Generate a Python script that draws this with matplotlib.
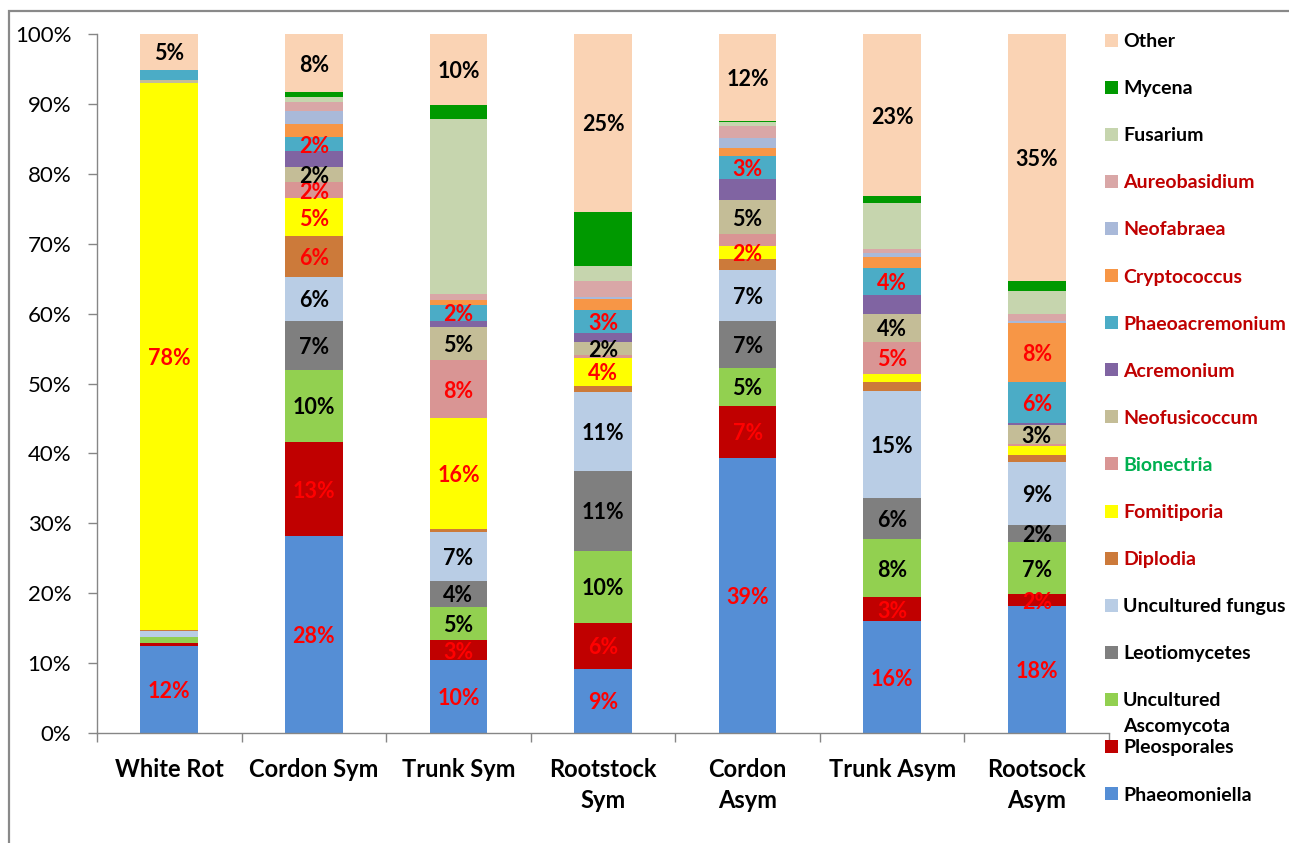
import matplotlib
matplotlib.use("Agg")
import matplotlib.pyplot as plt
from matplotlib.patches import Rectangle
import numpy as np

plt.rcParams["font.family"] = ["Lato", "DejaVu Sans"]

# Sample groups (x axis)
categories = ["White Rot", "Cordon Sym", "Trunk Sym", "Rootstock\nSym",
              "Cordon\nAsym", "Trunk Asym", "Rootsock\nAsym"]

# Relative abundance (%) of each taxon per sample group, stacked bottom -> top
phaeomoniella      = [12.4, 28.2, 10.4,  9.2, 39.4, 16.0, 18.1]
pleosporales       = [ 0.5, 13.4,  2.9,  6.5,  7.4,  3.4,  1.8]
uncult_ascomycota  = [ 0.8, 10.4,  4.7, 10.4,  5.4,  8.4,  7.4]
leotiomycetes      = [ 0.0,  6.9,  3.8, 11.4,  6.8,  5.8,  2.4]
uncult_fungus      = [ 0.9,  6.4,  6.9, 11.3,  7.2, 15.3,  9.0]
diplodia           = [ 0.15, 5.8,  0.5,  0.8,  1.6,  1.3,  1.1]
fomitiporia        = [78.2,  5.4, 15.8,  4.1,  1.9,  1.2,  1.2]
bionectria         = [ 0.1,  2.3,  8.4,  0.4,  1.7,  4.6,  0.3]
neofusicoccum      = [ 0.35, 2.2,  4.7,  1.8,  4.8,  4.0,  2.8]
acremonium         = [ 0.0,  2.2,  0.8,  1.3,  3.0,  2.6,  0.2]
phaeoacremonium    = [ 1.5,  2.0,  2.4,  3.3,  3.4,  3.9,  5.9]
cryptococcus       = [ 0.0,  1.9,  0.6,  1.6,  1.1,  1.6,  8.4]
neofabraea         = [ 0.0,  1.9,  0.1,  0.3,  1.4,  0.5,  0.4]
aureobasidium      = [ 0.0,  1.3,  0.8,  2.3,  1.7,  0.7,  0.9]
fusarium           = [ 0.0,  0.7, 25.1,  2.1,  0.6,  6.5,  3.3]
mycena             = [ 0.0,  0.7,  2.0,  7.8,  0.2,  1.0,  1.4]
other              = [ 5.1,  8.3, 10.1, 25.4, 12.4, 23.2, 35.4]

series_names = ["Phaeomoniella", "Pleosporales", "Uncultured\nAscomycota",
                "Leotiomycetes", "Uncultured fungus", "Diplodia", "Fomitiporia",
                "Bionectria", "Neofusicoccum", "Acremonium", "Phaeoacremonium",
                "Cryptococcus", "Neofabraea", "Aureobasidium", "Fusarium",
                "Mycena", "Other"]
series_values = [phaeomoniella, pleosporales, uncult_ascomycota, leotiomycetes,
                 uncult_fungus, diplodia, fomitiporia, bionectria, neofusicoccum,
                 acremonium, phaeoacremonium, cryptococcus, neofabraea,
                 aureobasidium, fusarium, mycena, other]

# Which sample groups carry a percentage label for each taxon
labelled_groups = {
    "Phaeomoniella": [0, 1, 2, 3, 4, 5, 6],
    "Pleosporales": [1, 2, 3, 4, 5, 6],
    "Uncultured\nAscomycota": [1, 2, 3, 4, 5, 6],
    "Leotiomycetes": [1, 2, 3, 4, 5, 6],
    "Uncultured fungus": [1, 2, 3, 4, 5, 6],
    "Diplodia": [1],
    "Fomitiporia": [0, 1, 2, 3, 4],
    "Bionectria": [1, 2, 5],
    "Neofusicoccum": [1, 2, 3, 4, 5, 6],
    "Phaeoacremonium": [1, 2, 3, 4, 5, 6],
    "Cryptococcus": [6],
    "Other": [0, 1, 2, 3, 4, 5, 6],
}

fill_colors = ["#558ED5", "#C00000", "#92D050", "#7F7F7F", "#B9CDE5", "#CC7A3A",
               "#FFFF00", "#D99594", "#C4BD97", "#8064A2", "#4BACC6", "#F79646",
               "#A9B9D9", "#D9A7A7", "#C6D5AE", "#009900", "#FAD3B4"]
RED, BLACK, DARKRED, GREEN = "#FF0000", "#000000", "#C00000", "#00B050"
value_colors = [RED, RED, BLACK, BLACK, BLACK, RED, RED, RED, BLACK, BLACK,
                RED, RED, BLACK, BLACK, BLACK, BLACK, BLACK]
legend_colors = [BLACK, BLACK, BLACK, BLACK, BLACK, DARKRED, DARKRED, GREEN,
                 DARKRED, DARKRED, DARKRED, DARKRED, DARKRED, DARKRED, BLACK,
                 BLACK, BLACK]

W, H = 1289, 843
fig = plt.figure(figsize=(W / 100, H / 100), dpi=100)
ax = fig.add_axes([97 / W, (H - 733) / H, (1109 - 97) / W, (733 - 34) / H])

x = np.arange(len(categories))
bottom = np.zeros(len(categories))
for name, vals, fc, vc in zip(series_names, series_values, fill_colors, value_colors):
    vals = np.asarray(vals, dtype=float)
    ax.bar(x, vals, width=0.4, bottom=bottom, color=fc, linewidth=0, zorder=2)
    for i in labelled_groups.get(name, []):
        ax.text(x[i], bottom[i] + vals[i] / 2, f"{vals[i]:.0f}%",
                ha="center", va="center_baseline", fontsize=15.5,
                fontweight="bold", color=vc, zorder=3)
    bottom += vals

ax.set_xlim(-0.5, len(categories) - 0.5)
ax.set_ylim(0, 100)
ax.set_yticks(np.arange(0, 101, 10))
ax.set_yticklabels([f"{t}%" for t in range(0, 101, 10)], fontsize=16)
ax.tick_params(axis="y", direction="out", length=6.5, width=1, color="#868686",
               pad=12)

ax.set_xticks(x)
ax.set_xticklabels(categories, fontsize=17, fontweight="bold", linespacing=1.4)
ax.tick_params(axis="x", which="major", length=0, pad=18)
ax.set_xticks(np.arange(-0.5, len(categories)), minor=True)
ax.tick_params(axis="x", which="minor", direction="out", length=6.5, width=1,
               color="#868686")

for side in ("top", "right"):
    ax.spines[side].set_visible(False)
for side in ("left", "bottom"):
    ax.spines[side].set_color("#868686")
    ax.spines[side].set_linewidth(1)

# Legend, drawn top (Other) to bottom (Phaeomoniella)
leg_top, leg_step = 40, 47.1
for k, idx in enumerate(range(len(series_names) - 1, -1, -1)):
    yc = leg_top + k * leg_step
    fig.add_artist(Rectangle((1105 / W, (H - yc - 6.5) / H), 13 / W, 13 / H,
                             transform=fig.transFigure, color=fill_colors[idx],
                             linewidth=0))
    for j, line in enumerate(series_names[idx].split("\n")):
        fig.text(1123 / W, (H - yc - j * 26) / H, line, ha="left",
                 va="center_baseline", fontsize=14, fontweight="bold",
                 color=legend_colors[idx])

# Outer chart frame
fig.add_artist(Rectangle((8.5 / W, -0.05), 1.2, (H - 11) / H + 0.05,
                         transform=fig.transFigure, fill=False,
                         edgecolor="#898989", linewidth=1.6))

fig.savefig("out.png", dpi=100)
